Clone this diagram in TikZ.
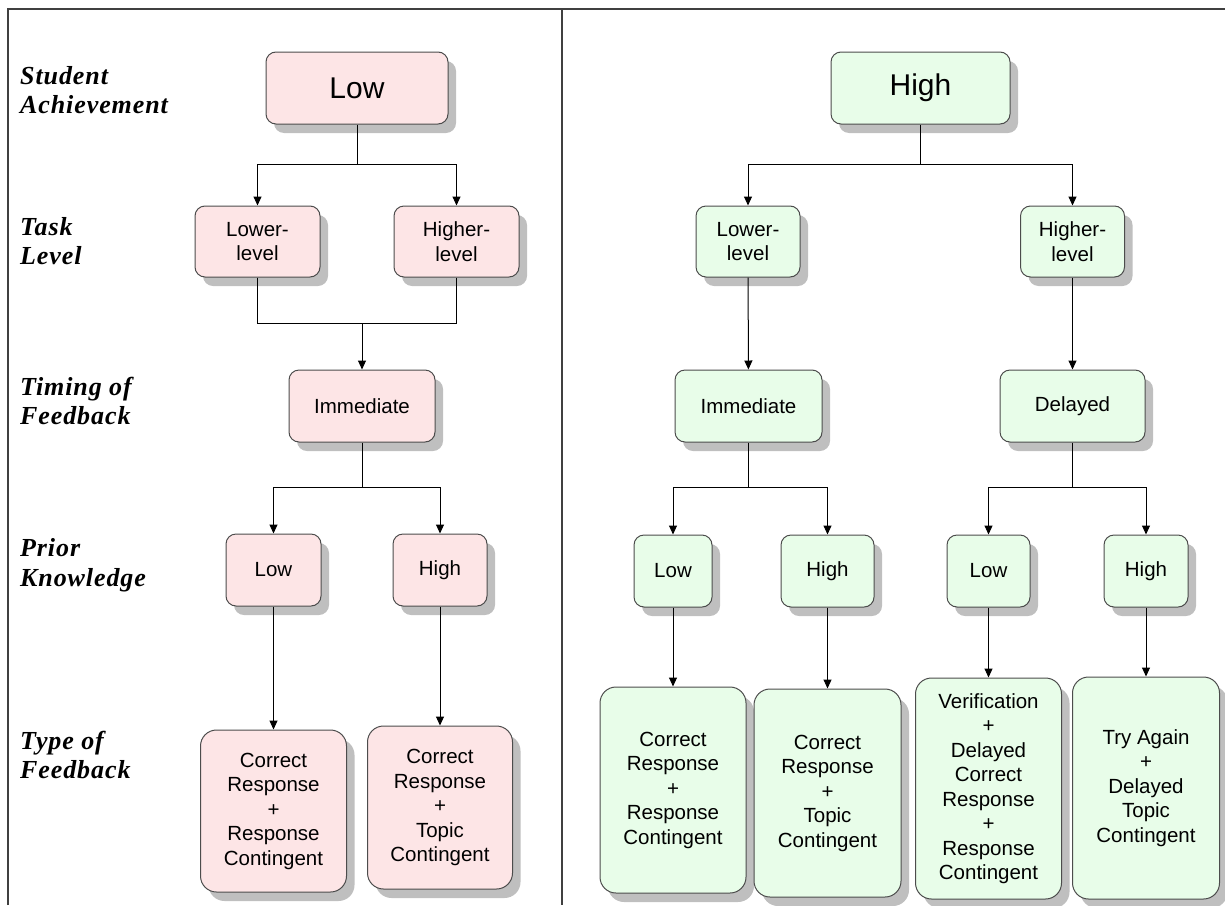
\documentclass[tikz,border=0pt]{standalone}
\usepackage{fontspec}
\setmainfont{Liberation Sans}
\newfontfamily\labelfamily[LetterSpace=3.5]{Liberation Serif}
\usepackage{tikz}
\usepackage{xcolor}
\usetikzlibrary{arrows.meta,shadows}
\definecolor{lowpink}{RGB}{253,229,230}
\definecolor{highgreen}{RGB}{232,253,233}
\newcommand{\boxfont}{\fontsize{20.5}{24.5}\selectfont}
\newcommand{\topfont}{\fontsize{30}{34}\selectfont}
\newcommand{\rowfont}{\labelfamily\bfseries\itshape\fontsize{26}{29.5}\selectfont}
\tikzset{
    tree-box/.style = {draw=black!70, line width=1pt, rectangle, rounded corners=10pt, align=center, inner sep=2pt, font=\boxfont,
        drop shadow={shadow xshift=8pt, shadow yshift=-9pt, fill=black!25, opacity=1}},
    big-corners/.style = {rounded corners=16pt},
    box-size/.style 2 args = {minimum width=#1, minimum height=#2},
    low-box/.style = {tree-box, fill=lowpink},
    high-box/.style = {tree-box, fill=highgreen},
    row-label/.style = {anchor=west, align=left, inner sep=0pt, font=\rowfont},
    tree-line/.style = {draw=black, line width=1pt},
    tree-arrow/.style = {tree-line, -{Triangle[width=8pt,length=9pt]}},
    frame-line/.style = {draw=black!75, line width=1.5pt},
}

\begin{document}
\begin{tikzpicture}[x=1pt, y=-1pt]
\useasboundingbox (0,0) rectangle (1225,905);

% frame
\draw[frame-line] (8,905) -- (8,9) -- (1225,9);
\draw[frame-line] (562,9) -- (562,905);

% row labels
\node[row-label] (lab-ach) at (20,90) {Student\\Achievement};
\node[row-label] (lab-task) at (20,241) {Task\\Level};
\node[row-label] (lab-time) at (20,401) {Timing of\\Feedback};
\node[row-label] (lab-prior) at (20,565) {Prior\\Knowledge};
\node[row-label] (lab-type) at (20,755) {Type of\\Feedback};

% low achievement
\node[low-box, box-size={182pt}{72pt}, font=\topfont] (low-top) at (357,88) {Low};
\node[low-box, box-size={125pt}{71pt}] (low-lower) at (257.5,241.5) {Lower-\\level};
\node[low-box, box-size={125pt}{71pt}] (low-higher) at (456.5,241.5) {Higher-\\level};
\node[low-box, box-size={146pt}{72pt}] (low-imm) at (362,406) {Immediate};
\node[low-box, box-size={95pt}{72pt}] (low-pk-low) at (273.5,570) {Low};
\node[low-box, box-size={94pt}{72pt}] (low-pk-high) at (440,570) {High};
\node[low-box, big-corners, box-size={146pt}{162pt}] (low-fb-low) at (273.5,811) {Correct\\Response\\+\\Response\\Contingent};
\node[low-box, big-corners, box-size={145pt}{163pt}] (low-fb-high) at (440,807.5) {Correct\\Response\\+\\Topic\\Contingent};

\coordinate (l-fork-a) at (357,164);
\coordinate (l-join) at (362,323);
\coordinate (l-fork-b) at (362,487);
\draw[tree-line] (low-top) -- (l-fork-a);
\draw[tree-arrow] (l-fork-a) -| (low-lower);
\draw[tree-arrow] (l-fork-a) -| (low-higher);
\draw[tree-line] (low-lower) |- (l-join);
\draw[tree-line] (low-higher) |- (l-join);
\draw[tree-arrow] (l-join) -- (low-imm);
\draw[tree-line] (low-imm) -- (l-fork-b);
\draw[tree-arrow] (l-fork-b) -| (low-pk-low);
\draw[tree-arrow] (l-fork-b) -| (low-pk-high);
\draw[tree-arrow] (low-pk-low) -- (low-fb-low);
\draw[tree-arrow] (low-pk-high) -- (low-fb-high);

% high achievement
\node[high-box, box-size={179pt}{72pt}, font=\topfont] (high-top) at (920.5,88) {High};
\node[high-box, box-size={104pt}{71pt}] (high-lower) at (748,241.5) {Lower-\\level};
\node[high-box, box-size={104pt}{71pt}] (high-higher) at (1072.5,241.5) {Higher-\\level};
\node[high-box, box-size={147pt}{72pt}] (high-imm) at (748.5,406) {Immediate};
\node[high-box, box-size={145pt}{72pt}] (high-del) at (1072.5,406) {Delayed};
\node[high-box, box-size={78pt}{72pt}] (high-pk-a) at (673,571) {Low};
\node[high-box, box-size={93pt}{72pt}] (high-pk-b) at (827.5,571) {High};
\node[high-box, box-size={83pt}{72pt}] (high-pk-c) at (988.5,571) {Low};
\node[high-box, box-size={84pt}{72pt}] (high-pk-d) at (1146,571) {High};
\node[high-box, big-corners, box-size={146pt}{206pt}] (high-fb-a) at (673,790) {Correct\\Response\\+\\Response\\Contingent};
\node[high-box, big-corners, box-size={147pt}{208pt}] (high-fb-b) at (827.5,793) {Correct\\Response\\+\\Topic\\Contingent};
\node[high-box, big-corners, box-size={146pt}{221pt}] (high-fb-c) at (988.5,788.5) {Verification\\+\\Delayed\\Correct\\Response\\+\\Response\\Contingent};
\node[high-box, big-corners, box-size={147pt}{222pt}] (high-fb-d) at (1146,788) {Try Again\\+\\Delayed\\Topic\\Contingent};

\coordinate (h-fork-a) at (920.5,164);
\coordinate (h-fork-b) at (748.5,487);
\coordinate (h-fork-c) at (1072.5,487);
\draw[tree-line] (high-top) -- (h-fork-a);
\draw[tree-arrow] (h-fork-a) -| (high-lower);
\draw[tree-arrow] (h-fork-a) -| (high-higher);
\draw[tree-arrow] (high-lower) -- (high-imm);
\draw[tree-arrow] (high-higher) -- (high-del);
\draw[tree-line] (high-imm) -- (h-fork-b);
\draw[tree-line] (high-del) -- (h-fork-c);
\draw[tree-arrow] (h-fork-b) -| (high-pk-a);
\draw[tree-arrow] (h-fork-b) -| (high-pk-b);
\draw[tree-arrow] (h-fork-c) -| (high-pk-c);
\draw[tree-arrow] (h-fork-c) -| (high-pk-d);
\draw[tree-arrow] (high-pk-a) -- (high-fb-a);
\draw[tree-arrow] (high-pk-b) -- (high-fb-b);
\draw[tree-arrow] (high-pk-c) -- (high-fb-c);
\draw[tree-arrow] (high-pk-d) -- (high-fb-d);
\end{tikzpicture}
\end{document}
